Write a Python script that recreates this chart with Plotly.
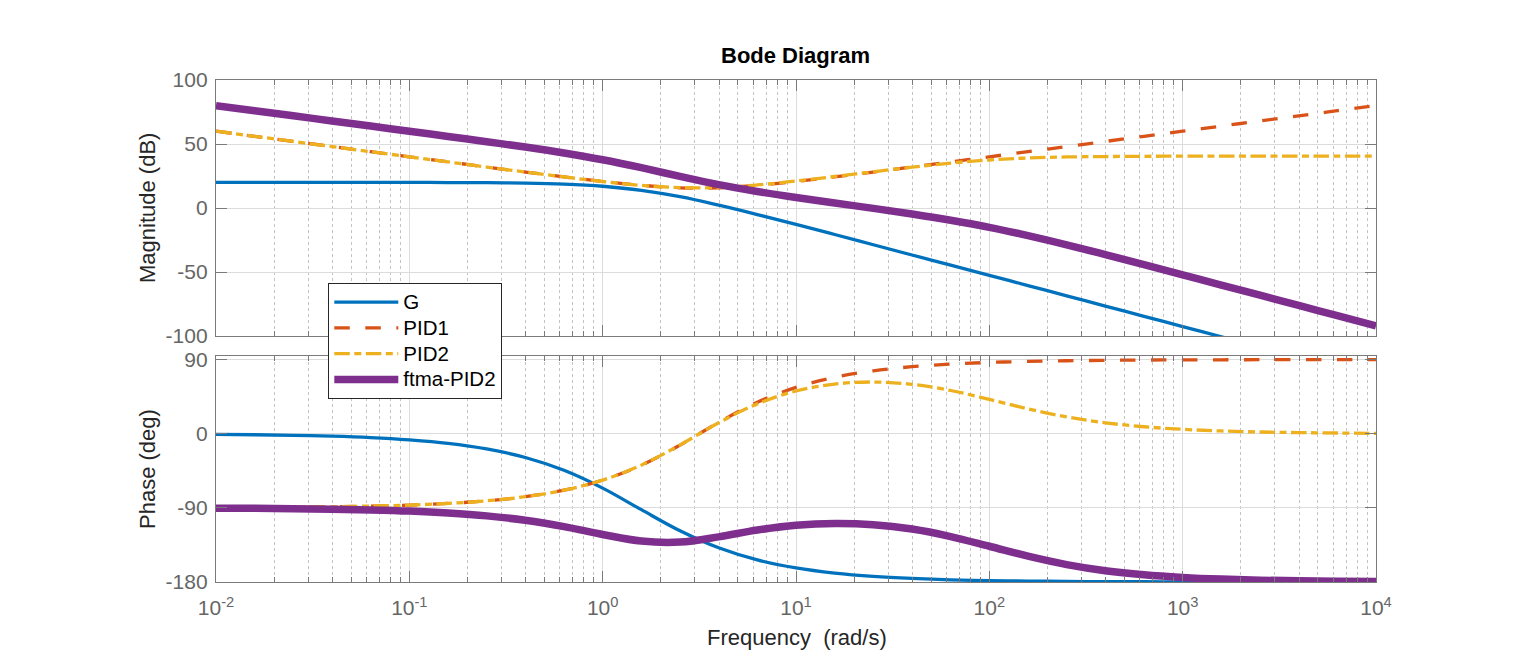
import plotly.graph_objects as go

# ---------------- data ----------------
freq = [0.01, 0.01585, 0.02512, 0.03981, 0.0631, 0.1, 0.1585, 0.2512, 0.3981, 0.631,
        1, 1.585, 2.512, 3.981, 6.31, 10, 15.85, 25.12, 39.81, 63.1,
        100, 158.5, 251.2, 398.1, 631, 1000, 1585, 2512, 3981, 6310, 10000]

G_mag = [20.0, 20.0, 20.0, 20.0, 20.0, 20.0, 19.9, 19.8, 19.5, 18.7,
         17.0, 13.8, 8.8, 2.2, -5.1, -12.8, -20.7, -28.7, -36.7, -44.6,
         -52.6, -60.6, -68.6, -76.6, -84.6, -92.6, -100.6, -108.6, -116.6, -124.6, -132.6]
G_phase = [-0.7, -1.2, -1.9, -2.9, -4.6, -7.4, -11.6, -18.4, -28.8, -44.4,
           -66.0, -92.2, -117.8, -138.5, -153.2, -162.9, -169.2, -173.2, -175.7, -177.3,
           -178.3, -178.9, -179.3, -179.6, -179.7, -179.8, -179.9, -179.9, -180.0, -180.0, -180.0]

PID1_mag = [60.0, 56.0, 52.0, 48.0, 44.0, 40.0, 36.0, 32.0, 28.1, 24.3,
            20.7, 17.7, 15.8, 15.8, 17.7, 20.7, 24.3, 28.1, 32.0, 36.0,
            40.0, 44.0, 48.0, 52.0, 56.0, 60.0, 64.0, 68.0, 72.0, 76.0, 80.0]
PID1_phase = [-89.7, -89.5, -89.1, -88.6, -87.8, -86.6, -84.6, -81.4, -76.4, -68.5,
              -56.3, -38.2, -13.8, 13.8, 38.2, 56.3, 68.5, 76.4, 81.4, 84.6,
              86.6, 87.8, 88.6, 89.1, 89.5, 89.7, 89.8, 89.9, 89.9, 89.9, 90.0]

PID2_mag = [60.0, 56.0, 52.0, 48.0, 44.0, 40.0, 36.0, 32.0, 28.1, 24.3,
            20.7, 17.7, 15.9, 16.0, 18.0, 21.1, 24.6, 28.3, 31.9, 35.1,
            37.5, 39.1, 39.9, 40.2, 40.4, 40.5, 40.5, 40.5, 40.5, 40.5, 40.5]
PID2_phase = [-89.7, -89.5, -89.1, -88.6, -87.8, -86.6, -84.6, -81.4, -76.4, -68.5,
              -56.3, -38.1, -13.6, 13.4, 36.3, 51.9, 60.3, 62.8, 60.0, 52.5,
              41.7, 30.2, 20.4, 13.3, 8.5, 5.4, 3.4, 2.1, 1.4, 0.9, 0.5]

ftma_mag = [80.0, 76.0, 72.0, 68.0, 64.0, 60.0, 55.9, 51.8, 47.6, 43.0,
            37.7, 31.5, 24.7, 18.3, 12.9, 8.2, 3.9, -0.3, -4.7, -9.6,
            -15.1, -21.6, -28.8, -36.4, -44.2, -52.2, -60.2, -68.1, -76.1, -84.1, -92.1]
ftma_phase = [-90.4, -90.6, -91.0, -91.6, -92.5, -93.9, -96.2, -99.7, -105.1, -112.8,
              -122.3, -130.3, -131.5, -125.2, -116.9, -111.1, -108.9, -110.4, -115.7, -124.8,
              -136.6, -148.7, -158.9, -166.3, -171.2, -174.4, -176.5, -177.8, -178.6, -179.1, -179.4]

series_names = ["G", "PID1", "PID2", "ftma-PID2"]
mag_data = [G_mag, PID1_mag, PID2_mag, ftma_mag]
phase_data = [G_phase, PID1_phase, PID2_phase, ftma_phase]

x_tickvals = [0.01, 0.1, 1, 10, 100, 1000, 10000]
x_ticktext = ["10<sup>-2</sup>", "10<sup>-1</sup>", "10<sup>0</sup>", "10<sup>1</sup>",
              "10<sup>2</sup>", "10<sup>3</sup>", "10<sup>4</sup>"]
mag_ticks = [-100, -50, 0, 50, 100]
phase_ticks = [-180, -90, 0, 90]

# ---------------- styles ----------------
styles = [
    dict(color="#0072BD", width=3.3, dash="solid"),
    dict(color="#D95319", width=3.3, dash="15.5px,15.5px"),
    dict(color="#EDB120", width=3.3, dash="15.5px,4.5px,7px,4.5px"),
    dict(color="#7E2F8E", width=7.5, dash="solid"),
]

FONT = "Liberation Sans, Arial, Helvetica, sans-serif"
W, H = 1520, 656
L, R = 216, 1376
TOP1, BOT1 = 80, 336
TOP2, BOT2 = 355.5, 582

fig = go.Figure()
for name, m, p, st in zip(series_names, mag_data, phase_data, styles):
    fig.add_trace(go.Scatter(x=freq, y=m, mode="lines",
                             name='<span style="font-size:20.5px">' + name + "</span>",
                             legendgroup=name,
                             line=dict(color=st["color"], width=st["width"], dash=st["dash"],
                                       shape="spline", smoothing=1.0),
                             xaxis="x", yaxis="y"))
    fig.add_trace(go.Scatter(x=freq, y=p, mode="lines", name=name, legendgroup=name,
                             showlegend=False,
                             line=dict(color=st["color"], width=st["width"], dash=st["dash"],
                                       shape="spline", smoothing=1.0),
                             xaxis="x2", yaxis="y2"))

minor_vals = [m * 10.0 ** d for d in range(-2, 4) for m in range(2, 10)]

def xaxis_common(show_labels, anchor):
    return dict(
        type="log", range=[-2, 4], domain=[L / W, R / W], anchor=anchor,
        tickmode="array", tickvals=x_tickvals, ticktext=x_ticktext,
        showticklabels=show_labels, automargin=False,
        ticks="inside", ticklen=11, tickwidth=1, tickcolor="#7a7a7a",
        showline=True, linecolor="#7a7a7a", linewidth=1.3, mirror="ticks",
        showgrid=True, gridcolor="#dcdcdc", gridwidth=1, zeroline=False,
        tickfont=dict(family=FONT, size=21, color="#666666"),
        ticklabelstandoff=7,
        minor=dict(tickmode="array", tickvals=minor_vals, ticks="inside", ticklen=5,
                   tickcolor="#7a7a7a", showgrid=True, gridcolor="#c4c4c4",
                   griddash="dot", gridwidth=1),
    )

def yaxis_common(rng, ticks, top, bot, anchor):
    return dict(
        range=rng, domain=[1 - bot / H, 1 - top / H], anchor=anchor,
        tickmode="array", tickvals=ticks, ticktext=[str(t) for t in ticks],
        automargin=False,
        ticks="inside", ticklen=11, tickwidth=1, tickcolor="#7a7a7a",
        showline=True, linecolor="#7a7a7a", linewidth=1.3, mirror="ticks",
        showgrid=True, gridcolor="#dcdcdc", gridwidth=1, zeroline=False,
        tickfont=dict(family=FONT, size=21, color="#666666"),
        ticklabelstandoff=3,
    )

fig.update_layout(
    width=W, height=H, margin=dict(l=0, r=0, t=0, b=0, pad=0, autoexpand=False),
    autosize=False,
    paper_bgcolor="white", plot_bgcolor="white",
    xaxis=xaxis_common(False, "y"),
    yaxis=yaxis_common([-100, 100], mag_ticks, TOP1, BOT1, "x"),
    xaxis2=xaxis_common(True, "y2"),
    yaxis2=yaxis_common([-180, 95], phase_ticks, TOP2, BOT2, "x2"),
    showlegend=True,
    legend=dict(x=328 / W, y=1 - 283 / H, xanchor="left", yanchor="top",
                bgcolor="white", bordercolor="#262626", borderwidth=1.3,
                font=dict(family=FONT, size=17.5, color="#000000"),
                itemwidth=64, tracegroupgap=0),
    annotations=[
        dict(text="<b>Bode Diagram</b>", x=795 / W, y=1 - 56 / H, xref="paper", yref="paper",
             showarrow=False, xanchor="center", yanchor="middle",
             font=dict(family=FONT, size=22, color="#000000")),
        dict(text="Magnitude (dB)", x=147 / W, y=1 - 208 / H, xref="paper", yref="paper",
             showarrow=False, xanchor="center", yanchor="middle", textangle=-90,
             font=dict(family=FONT, size=22, color="#262626")),
        dict(text="Phase (deg)", x=147 / W, y=1 - 469 / H, xref="paper", yref="paper",
             showarrow=False, xanchor="center", yanchor="middle", textangle=-90,
             font=dict(family=FONT, size=22, color="#262626")),
        dict(text="Frequency\u00a0 (rad/s)", x=797 / W, y=1 - 637 / H, xref="paper", yref="paper",
             showarrow=False, xanchor="center", yanchor="middle",
             font=dict(family=FONT, size=22, color="#262626")),
    ],
)

fig.write_html("out.html")
